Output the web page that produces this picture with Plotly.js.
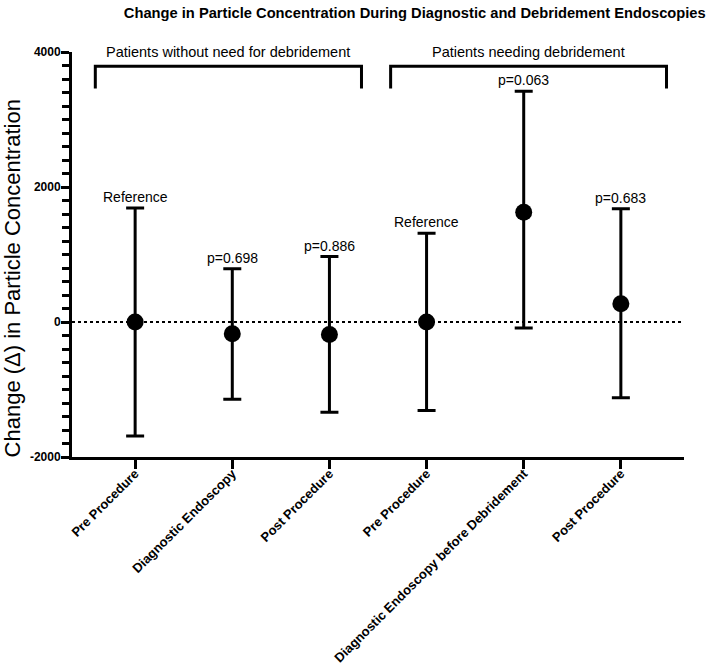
<!DOCTYPE html>
<html>
<head>
<meta charset="utf-8">
<script src="https://cdn.plot.ly/plotly-3.0.1.min.js"></script>
<style>html,body{margin:0;padding:0;background:#fff;}#chart{width:709px;height:671px;}</style>
</head>
<body>
<div id="chart"></div>
<script>
// ---- data ----
const categories = ["Pre Procedure", "Diagnostic Endoscopy", "Post Procedure",
                    "Pre Procedure", "Diagnostic Endoscopy before Debridement", "Post Procedure"];
const meanValues  = [0, -175, -185, 0, 1627, 270];
const upperValues = [1690, 790, 970, 1316, 3420, 1677];
const lowerValues = [-1690, -1143, -1336, -1311, -90, -1123];
const pLabels = ["Reference", "p=0.698", "p=0.886", "Reference", "p=0.063", "p=0.683"];
const groupNames = ["Patients without need for debridement", "Patients needing debridement"];
const groupStart = [-0.41, 2.63];
const groupEnd   = [2.33, 5.47];
const bracketTop = 3790;
const bracketArm = 3460;
const yTickVals = [-2000, 0, 2000, 4000];

const xIdx = categories.map((_, i) => i);
const errPlus = upperValues.map((u, i) => u - meanValues[i]);
const errMinus = lowerValues.map((l, i) => meanValues[i] - l);

const FONT = "Liberation Sans, Arial, Helvetica, sans-serif";

const trace = {
  x: xIdx, y: meanValues, type: "scatter", mode: "markers",
  marker: {color: "black", size: 17},
  error_y: {type: "data", symmetric: false, array: errPlus, arrayminus: errMinus,
            color: "black", thickness: 3, width: 9},
  hoverinfo: "skip", showlegend: false
};

const shapes = [{
  type: "line", xref: "paper", x0: 0, x1: 1, yref: "y", y0: 0, y1: 0,
  line: {color: "black", width: 2, dash: "dot"}, layer: "below"
}];
groupNames.forEach((g, i) => {
  shapes.push({
    type: "path", xref: "x", yref: "y",
    path: `M ${groupStart[i]} ${bracketArm} L ${groupStart[i]} ${bracketTop} L ${groupEnd[i]} ${bracketTop} L ${groupEnd[i]} ${bracketArm}`,
    line: {color: "black", width: 3}
  });
});

const annotations = [];
groupNames.forEach((g, i) => {
  annotations.push({
    x: (groupStart[i] + groupEnd[i]) / 2, y: 4000, xref: "x", yref: "y",
    text: g, showarrow: false, yanchor: "middle",
    font: {family: FONT, size: 14.5, color: "black"}
  });
});
pLabels.forEach((t, i) => {
  annotations.push({
    x: xIdx[i], y: upperValues[i], xref: "x", yref: "y",
    text: t, showarrow: false, yanchor: "bottom", yshift: 1,
    font: {family: FONT, size: 14, color: "black"}
  });
});
annotations.push({
  xref: "paper", yref: "paper", x: -0.097, y: 0.44, xanchor: "center", yanchor: "middle",
  text: "Change (\u0394) in Particle Concentration", textangle: -90, showarrow: false,
  font: {family: FONT, size: 22, color: "black"}
});

const layout = {
  width: 709, height: 671,
  margin: {l: 72, r: 25, t: 52, b: 214, pad: 0},
  paper_bgcolor: "white", plot_bgcolor: "white",
  title: {text: "<b>Change in Particle Concentration During Diagnostic and Debridement Endoscopies</b>",
          x: 0.585, xanchor: "center", y: 0.981, yanchor: "middle",
          font: {family: FONT, size: 14.7, color: "black"}},
  xaxis: {range: [-0.65, 5.65], tickvals: xIdx, ticktext: categories.map(c => "<b>" + c + "</b>"),
          tickangle: -45, showgrid: false, zeroline: false, showline: true,
          linecolor: "black", linewidth: 3, ticks: "outside", ticklen: 9, tickwidth: 3,
          tickcolor: "black", ticklabelstandoff: -8,
          tickfont: {family: FONT, size: 13, color: "black"}},
  yaxis: {range: [-2000, 4000], tickvals: yTickVals, ticktext: yTickVals.map(v => "<b>" + v + "</b>"),
          showgrid: false, zeroline: false, showline: true, linecolor: "black", linewidth: 3,
          ticks: "outside", ticklen: 8, tickwidth: 3, tickcolor: "black", ticklabelstandoff: -2,
          minor: {dtick: 200, tick0: 0, ticks: "outside", ticklen: 7, tickwidth: 3, tickcolor: "black", showgrid: false},
          tickfont: {family: FONT, size: 12, color: "black"}},
  shapes: shapes,
  annotations: annotations
};

Plotly.newPlot("chart", [trace], layout, {displayModeBar: false, staticPlot: true});
</script>
</body>
</html>
